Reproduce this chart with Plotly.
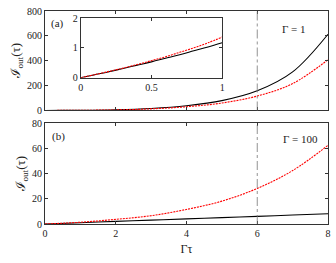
import plotly.graph_objects as go

# ---- data ----
x_main = [0, 0.5, 1, 2, 3, 4, 5, 6, 7, 8]
top_black = [0, 0.53, 1.17, 5.5, 16, 38, 79, 158, 310, 613]
top_red = [0, 0.58, 1.36, 4.6, 13, 30, 60, 116, 216, 408]

x_bot = [0, 1, 2, 3, 4, 5, 6, 7, 8]
bot_black = [0, 1.0, 2.1, 3.1, 4.1, 5.1, 6.1, 7.1, 8.1]
bot_red = [0, 1.4, 3.7, 6.6, 11.6, 18.2, 28.3, 42.5, 62.6]

x_inset = [0, 0.1, 0.2, 0.3, 0.4, 0.5, 0.6, 0.7, 0.8, 0.9, 1.0]
inset_black = [0, 0.10, 0.20, 0.31, 0.42, 0.53, 0.65, 0.77, 0.90, 1.03, 1.17]
inset_red = [0, 0.10, 0.21, 0.32, 0.44, 0.57, 0.70, 0.85, 1.00, 1.17, 1.36]

x_ticks = [0, 2, 4, 6, 8]
top_yticks = [0, 200, 400, 600, 800]
bot_yticks = [0, 20, 40, 60, 80]
inset_xticks = [0, 0.5, 1]
inset_yticks = [0, 1, 2]
marker_x = 6

FONT = "Liberation Serif"
AX = "#333333"
BLACK = dict(color="black", width=1.1)
RED = dict(color="red", width=1.1, dash="2px,1px")

fig = go.Figure()
fig.add_trace(go.Scatter(x=x_main, y=top_black, mode="lines", line=BLACK, line_shape="spline", xaxis="x", yaxis="y"))
fig.add_trace(go.Scatter(x=x_main, y=top_red, mode="lines", line=RED, line_shape="spline", xaxis="x", yaxis="y"))
fig.add_trace(go.Scatter(x=x_bot, y=bot_black, mode="lines", line=BLACK, line_shape="spline", xaxis="x2", yaxis="y2"))
fig.add_trace(go.Scatter(x=x_bot, y=bot_red, mode="lines", line=RED, line_shape="spline", xaxis="x2", yaxis="y2"))
fig.add_trace(go.Scatter(x=x_inset, y=inset_black, mode="lines", line=BLACK, line_shape="spline", xaxis="x3", yaxis="y3"))
fig.add_trace(go.Scatter(x=x_inset, y=inset_red, mode="lines", line=RED, line_shape="spline", xaxis="x3", yaxis="y3"))

common = dict(showgrid=False, zeroline=False, showline=True, linecolor=AX, linewidth=1,
              mirror="ticks", ticks="inside", ticklen=3, tickcolor=AX,
              tickfont=dict(family=FONT, size=10, color="#222"))

ytitle = dict(text="ℐ<sub>out</sub>(τ)", font=dict(family=FONT, size=13), standoff=3)

fig.update_layout(
    width=336, height=263,
    margin=dict(l=45, r=5, t=10, b=39),
    paper_bgcolor="white", plot_bgcolor="white",
    showlegend=False, hovermode=False,
    font=dict(family=FONT, color="#222"),
    xaxis=dict(domain=[0, 1], anchor="y", range=[0, 8], tickvals=x_ticks, showticklabels=False, **common),
    yaxis=dict(domain=[0.533, 1], anchor="x", range=[0, 800], tickvals=top_yticks, title=ytitle, **common),
    xaxis2=dict(domain=[0, 1], anchor="y2", range=[0, 8], tickvals=x_ticks,
                title=dict(text="Γτ", font=dict(family=FONT, size=12), standoff=6), **common),
    yaxis2=dict(domain=[0, 0.472], anchor="x2", range=[0, 80], tickvals=bot_yticks, title=ytitle, **common),
    xaxis3=dict(domain=[0.126, 0.626], anchor="y3", range=[0, 1], tickvals=inset_xticks,
                ticktext=["0", "0.5", "1"], **common),
    yaxis3=dict(domain=[0.687, 0.967], anchor="x3", range=[0, 2], tickvals=inset_yticks, **common),
)

for xr, yref in [("x", "y domain"), ("x2", "y2 domain")]:
    fig.add_shape(type="line", xref=xr, yref=yref, x0=marker_x, x1=marker_x, y0=0, y1=1,
                  line=dict(color="#777", width=0.8, dash="dashdot"))

ann_font = dict(family=FONT, size=11, color="#222")
fig.add_annotation(text="(a)", xref="paper", yref="paper", x=0.014, y=0.98, xanchor="left", yanchor="top",
                   showarrow=False, font=ann_font)
fig.add_annotation(text="Γ = 1", xref="paper", yref="paper", x=0.93, y=0.955, xanchor="right", yanchor="top",
                   showarrow=False, font=ann_font)
fig.add_annotation(text="(b)", xref="paper", yref="paper", x=0.017, y=0.452, xanchor="left", yanchor="top",
                   showarrow=False, font=ann_font)
fig.add_annotation(text="Γ = 100", xref="paper", yref="paper", x=0.972, y=0.437, xanchor="right", yanchor="top",
                   showarrow=False, font=ann_font)

fig.write_html("out.html", config={"displayModeBar": False},
               post_script="document.body.style.margin='0';document.body.style.overflow='hidden';")
